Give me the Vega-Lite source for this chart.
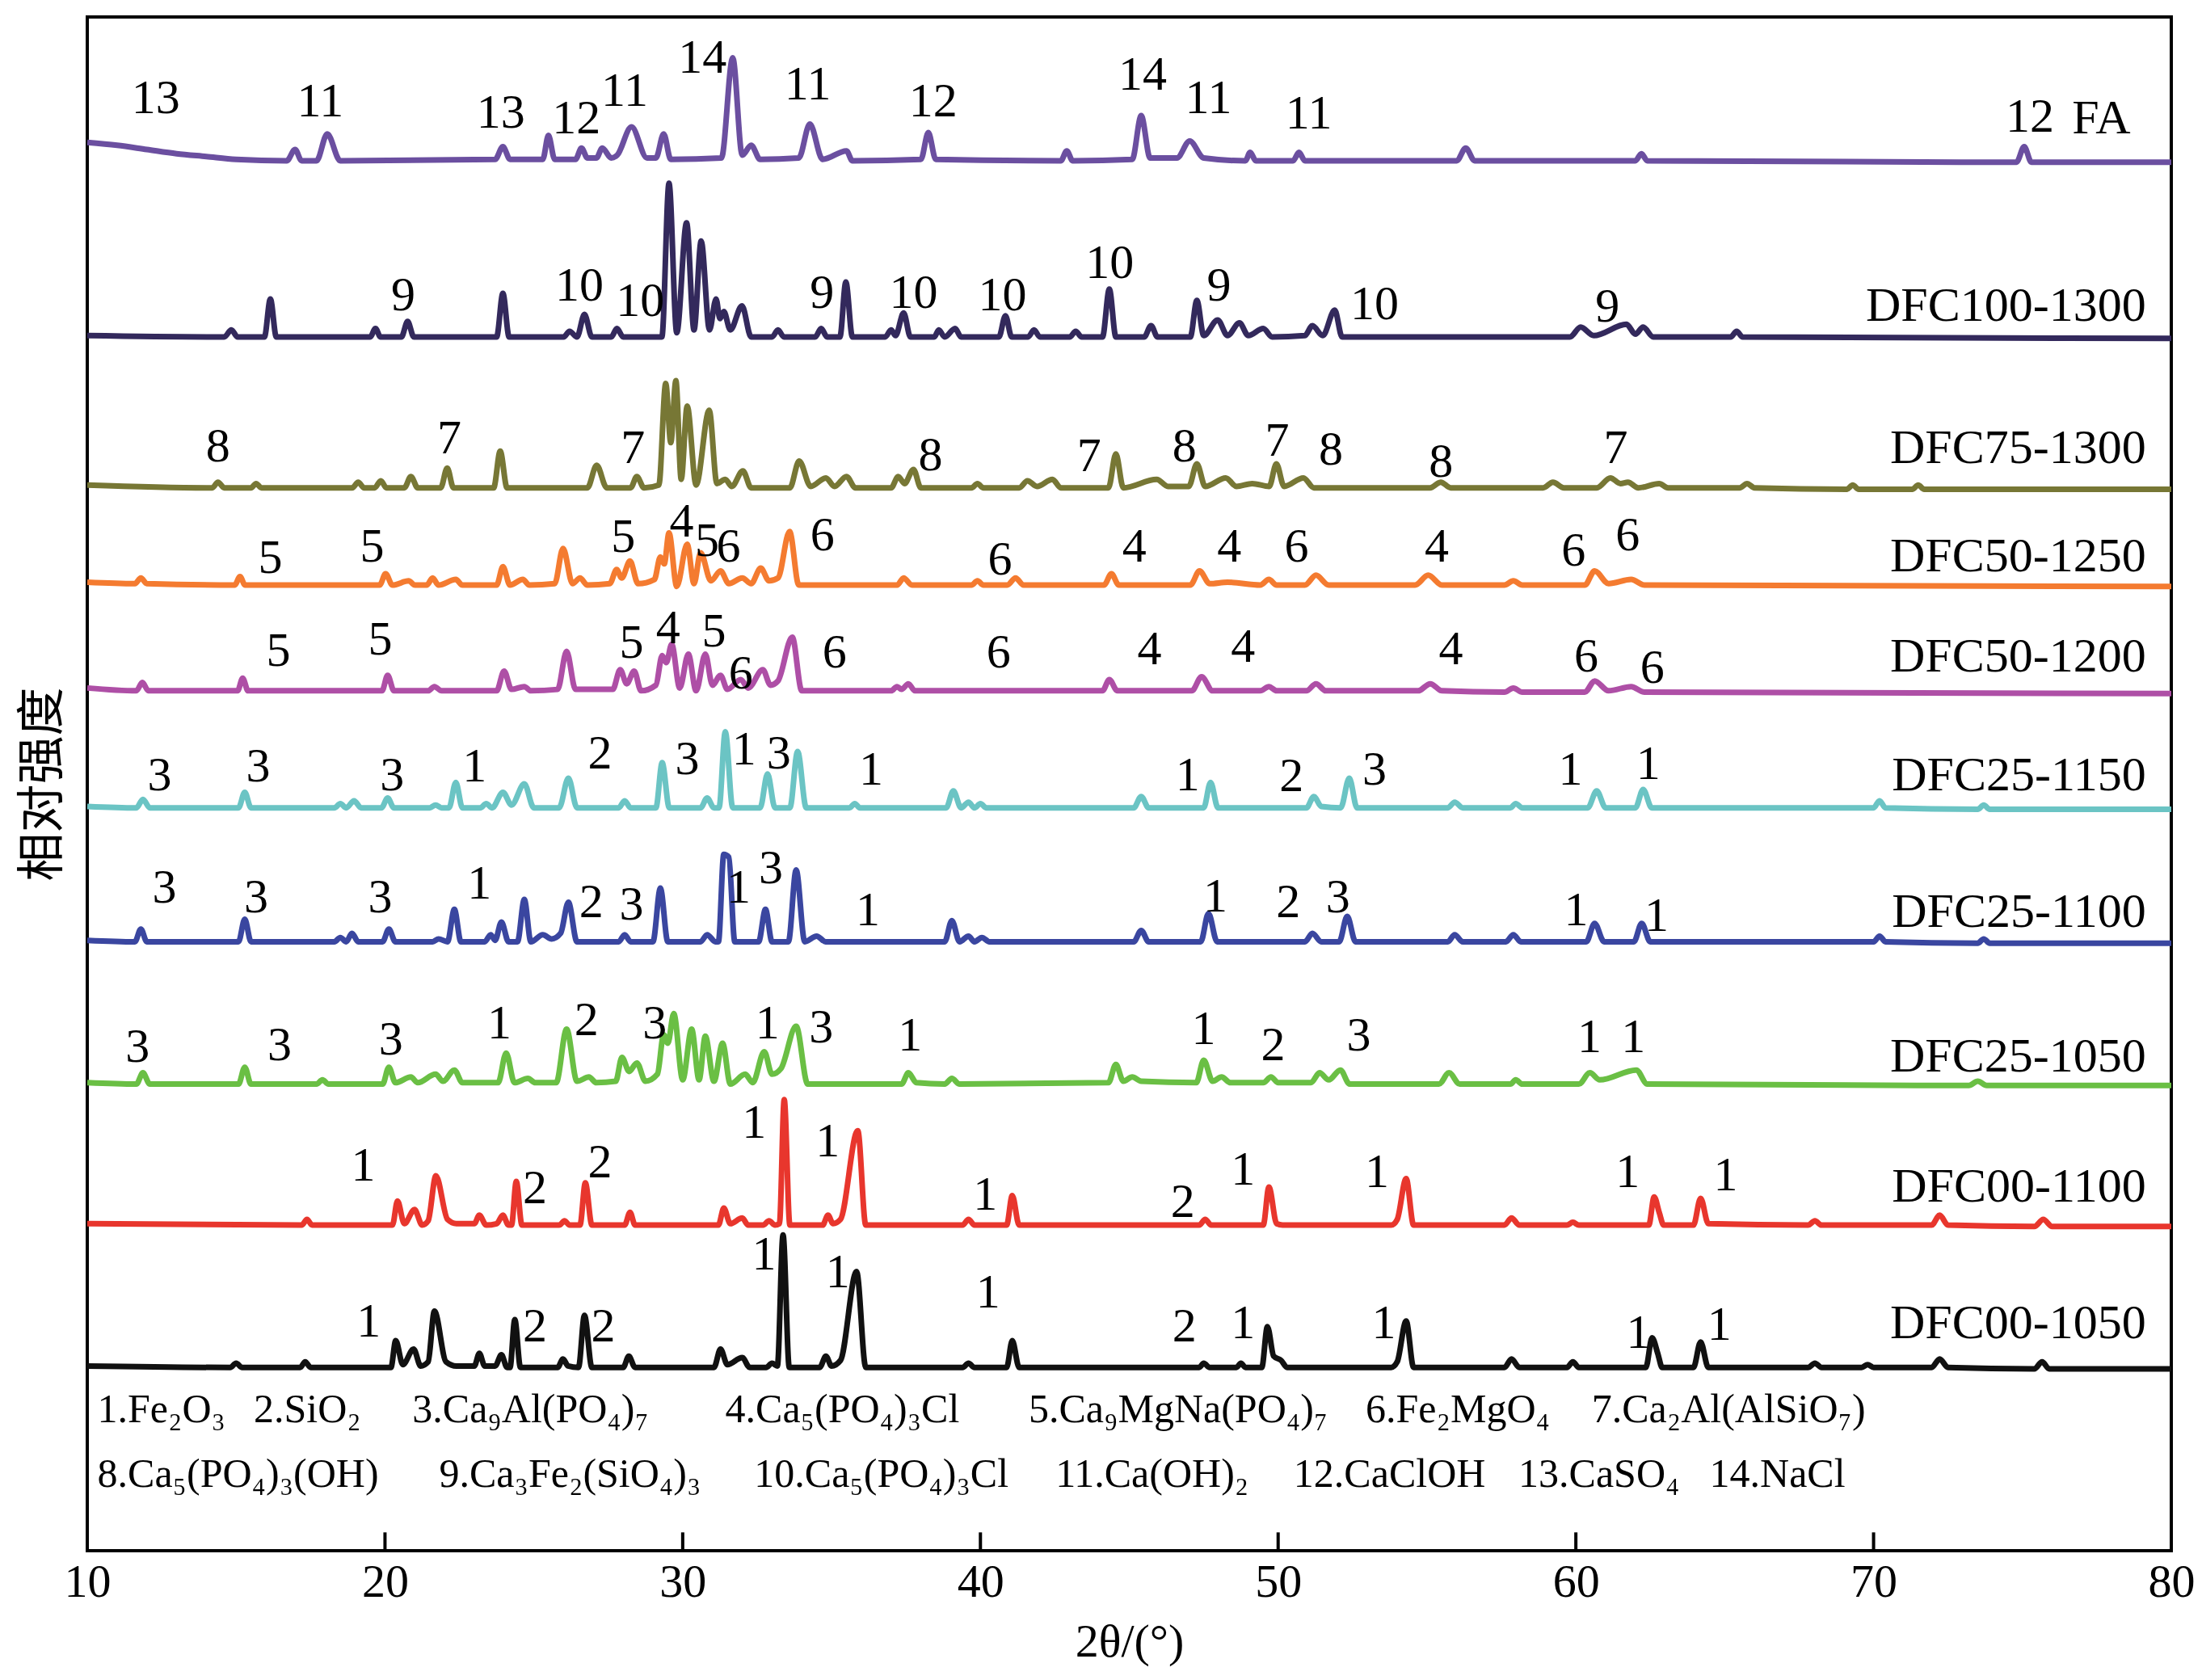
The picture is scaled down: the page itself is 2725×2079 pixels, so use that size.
{
  "$schema": "https://vega.github.io/schema/vega-lite/v6.json",
  "width": 2579,
  "height": 1898,
  "autosize": {"type": "none"},
  "padding": {"left": 108, "top": 21, "right": 38, "bottom": 160},
  "background": "white",
  "config": {
    "view": {"stroke": "black", "strokeWidth": 4},
    "font": "Liberation Serif"
  },
  "datasets": {
    "xrd": [
      {"s":"FA","t":10,"i":999},{"s":"FA","t":11,"i":997},{"s":"FA","t":12,"i":994},{"s":"FA","t":13,"i":991},{"s":"FA","t":14,"i":989},{"s":"FA","t":15,"i":987},{"s":"FA","t":16.7,"i":986},{"s":"FA","t":16.98,"i":994},{"s":"FA","t":17.2,"i":986},{"s":"FA","t":17.7,"i":986},{"s":"FA","t":18.06,"i":1005},{"s":"FA","t":18.5,"i":986},{"s":"FA","t":23.7,"i":987},{"s":"FA","t":23.96,"i":996},{"s":"FA","t":24.2,"i":987},{"s":"FA","t":25.3,"i":987},{"s":"FA","t":25.49,"i":1004},{"s":"FA","t":25.7,"i":987},{"s":"FA","t":26.4,"i":987},{"s":"FA","t":26.6,"i":995},{"s":"FA","t":26.8,"i":988},{"s":"FA","t":27.1,"i":988},{"s":"FA","t":27.3,"i":995},{"s":"FA","t":27.6,"i":988},{"s":"FA","t":27.8,"i":990},{"s":"FA","t":28.28,"i":1010},{"s":"FA","t":28.8,"i":988},{"s":"FA","t":29.1,"i":988},{"s":"FA","t":29.36,"i":1005},{"s":"FA","t":29.6,"i":987},{"s":"FA","t":31.3,"i":988},{"s":"FA","t":31.68,"i":1059},{"s":"FA","t":32.0,"i":990},{"s":"FA","t":32.3,"i":997},{"s":"FA","t":32.6,"i":987},{"s":"FA","t":33.9,"i":988},{"s":"FA","t":34.27,"i":1012},{"s":"FA","t":34.7,"i":987},{"s":"FA","t":35.5,"i":993},{"s":"FA","t":35.7,"i":986},{"s":"FA","t":38.0,"i":987},{"s":"FA","t":38.25,"i":1006},{"s":"FA","t":38.5,"i":987},{"s":"FA","t":42.7,"i":986},{"s":"FA","t":42.9,"i":993},{"s":"FA","t":43.1,"i":986},{"s":"FA","t":45.1,"i":987},{"s":"FA","t":45.4,"i":1018},{"s":"FA","t":45.7,"i":988},{"s":"FA","t":46.6,"i":988},{"s":"FA","t":47.03,"i":1000},{"s":"FA","t":47.5,"i":988},{"s":"FA","t":48.9,"i":986},{"s":"FA","t":49.06,"i":992},{"s":"FA","t":49.25,"i":986},{"s":"FA","t":50.5,"i":986},{"s":"FA","t":50.7,"i":992},{"s":"FA","t":50.9,"i":986},{"s":"FA","t":56.0,"i":986},{"s":"FA","t":56.3,"i":995},{"s":"FA","t":56.6,"i":986},{"s":"FA","t":62.0,"i":986},{"s":"FA","t":62.2,"i":991},{"s":"FA","t":62.4,"i":986},{"s":"FA","t":74.8,"i":985},{"s":"FA","t":75.06,"i":996},{"s":"FA","t":75.3,"i":985},{"s":"FA","t":80,"i":985},

      {"s":"DFC100-1300","t":10,"i":862},{"s":"DFC100-1300","t":14.6,"i":861},{"s":"DFC100-1300","t":14.84,"i":866},{"s":"DFC100-1300","t":15.05,"i":861},{"s":"DFC100-1300","t":15.95,"i":861},{"s":"DFC100-1300","t":16.15,"i":888},{"s":"DFC100-1300","t":16.35,"i":861},{"s":"DFC100-1300","t":19.5,"i":861},{"s":"DFC100-1300","t":19.68,"i":867},{"s":"DFC100-1300","t":19.85,"i":861},{"s":"DFC100-1300","t":20.55,"i":861},{"s":"DFC100-1300","t":20.76,"i":872},{"s":"DFC100-1300","t":20.97,"i":861},{"s":"DFC100-1300","t":23.75,"i":861},{"s":"DFC100-1300","t":23.96,"i":892},{"s":"DFC100-1300","t":24.17,"i":861},{"s":"DFC100-1300","t":26.0,"i":861},{"s":"DFC100-1300","t":26.2,"i":865},{"s":"DFC100-1300","t":26.45,"i":861},{"s":"DFC100-1300","t":26.7,"i":877},{"s":"DFC100-1300","t":26.95,"i":861},{"s":"DFC100-1300","t":27.6,"i":861},{"s":"DFC100-1300","t":27.79,"i":867},{"s":"DFC100-1300","t":28.0,"i":861},{"s":"DFC100-1300","t":29.3,"i":861},{"s":"DFC100-1300","t":29.54,"i":970},{"s":"DFC100-1300","t":29.8,"i":864},{"s":"DFC100-1300","t":30.13,"i":942},{"s":"DFC100-1300","t":30.38,"i":866},{"s":"DFC100-1300","t":30.62,"i":929},{"s":"DFC100-1300","t":30.9,"i":866},{"s":"DFC100-1300","t":31.12,"i":888},{"s":"DFC100-1300","t":31.25,"i":874},{"s":"DFC100-1300","t":31.38,"i":879},{"s":"DFC100-1300","t":31.6,"i":866},{"s":"DFC100-1300","t":31.99,"i":883},{"s":"DFC100-1300","t":32.3,"i":861},{"s":"DFC100-1300","t":33.0,"i":861},{"s":"DFC100-1300","t":33.2,"i":866},{"s":"DFC100-1300","t":33.4,"i":861},{"s":"DFC100-1300","t":34.45,"i":861},{"s":"DFC100-1300","t":34.65,"i":867},{"s":"DFC100-1300","t":34.85,"i":861},{"s":"DFC100-1300","t":35.28,"i":861},{"s":"DFC100-1300","t":35.48,"i":900},{"s":"DFC100-1300","t":35.7,"i":861},{"s":"DFC100-1300","t":36.8,"i":861},{"s":"DFC100-1300","t":37.0,"i":866},{"s":"DFC100-1300","t":37.15,"i":862},{"s":"DFC100-1300","t":37.42,"i":878},{"s":"DFC100-1300","t":37.65,"i":861},{"s":"DFC100-1300","t":38.45,"i":861},{"s":"DFC100-1300","t":38.6,"i":866},{"s":"DFC100-1300","t":38.8,"i":861},{"s":"DFC100-1300","t":39.15,"i":867},{"s":"DFC100-1300","t":39.35,"i":861},{"s":"DFC100-1300","t":40.62,"i":861},{"s":"DFC100-1300","t":40.84,"i":876},{"s":"DFC100-1300","t":41.05,"i":861},{"s":"DFC100-1300","t":41.6,"i":861},{"s":"DFC100-1300","t":41.8,"i":866},{"s":"DFC100-1300","t":42.0,"i":861},{"s":"DFC100-1300","t":43.0,"i":861},{"s":"DFC100-1300","t":43.2,"i":865},{"s":"DFC100-1300","t":43.4,"i":861},{"s":"DFC100-1300","t":44.1,"i":861},{"s":"DFC100-1300","t":44.33,"i":895},{"s":"DFC100-1300","t":44.55,"i":861},{"s":"DFC100-1300","t":45.5,"i":861},{"s":"DFC100-1300","t":45.73,"i":869},{"s":"DFC100-1300","t":45.95,"i":861},{"s":"DFC100-1300","t":47.05,"i":861},{"s":"DFC100-1300","t":47.27,"i":887},{"s":"DFC100-1300","t":47.5,"i":862},{"s":"DFC100-1300","t":47.97,"i":873},{"s":"DFC100-1300","t":48.3,"i":862},{"s":"DFC100-1300","t":48.7,"i":871},{"s":"DFC100-1300","t":49.0,"i":862},{"s":"DFC100-1300","t":49.5,"i":867},{"s":"DFC100-1300","t":49.8,"i":861},{"s":"DFC100-1300","t":50.9,"i":862},{"s":"DFC100-1300","t":51.15,"i":869},{"s":"DFC100-1300","t":51.5,"i":862},{"s":"DFC100-1300","t":51.9,"i":880},{"s":"DFC100-1300","t":52.15,"i":861},{"s":"DFC100-1300","t":59.8,"i":861},{"s":"DFC100-1300","t":60.16,"i":868},{"s":"DFC100-1300","t":60.6,"i":862},{"s":"DFC100-1300","t":61.7,"i":870},{"s":"DFC100-1300","t":62.0,"i":863},{"s":"DFC100-1300","t":62.26,"i":868},{"s":"DFC100-1300","t":62.6,"i":861},{"s":"DFC100-1300","t":65.2,"i":861},{"s":"DFC100-1300","t":65.4,"i":865},{"s":"DFC100-1300","t":65.6,"i":861},{"s":"DFC100-1300","t":80,"i":860},

      {"s":"DFC75-1300","t":10,"i":756},{"s":"DFC75-1300","t":14.2,"i":754},{"s":"DFC75-1300","t":14.39,"i":758},{"s":"DFC75-1300","t":14.6,"i":754},{"s":"DFC75-1300","t":15.5,"i":754},{"s":"DFC75-1300","t":15.67,"i":757},{"s":"DFC75-1300","t":15.85,"i":754},{"s":"DFC75-1300","t":18.9,"i":754},{"s":"DFC75-1300","t":19.1,"i":758},{"s":"DFC75-1300","t":19.3,"i":754},{"s":"DFC75-1300","t":19.65,"i":754},{"s":"DFC75-1300","t":19.86,"i":759},{"s":"DFC75-1300","t":20.05,"i":754},{"s":"DFC75-1300","t":20.65,"i":754},{"s":"DFC75-1300","t":20.87,"i":762},{"s":"DFC75-1300","t":21.1,"i":754},{"s":"DFC75-1300","t":21.87,"i":754},{"s":"DFC75-1300","t":22.09,"i":768},{"s":"DFC75-1300","t":22.3,"i":754},{"s":"DFC75-1300","t":23.65,"i":754},{"s":"DFC75-1300","t":23.87,"i":780},{"s":"DFC75-1300","t":24.1,"i":754},{"s":"DFC75-1300","t":26.8,"i":754},{"s":"DFC75-1300","t":27.11,"i":770},{"s":"DFC75-1300","t":27.45,"i":754},{"s":"DFC75-1300","t":28.25,"i":754},{"s":"DFC75-1300","t":28.46,"i":762},{"s":"DFC75-1300","t":28.7,"i":754},{"s":"DFC75-1300","t":29.2,"i":756},{"s":"DFC75-1300","t":29.43,"i":828},{"s":"DFC75-1300","t":29.6,"i":786},{"s":"DFC75-1300","t":29.77,"i":830},{"s":"DFC75-1300","t":29.95,"i":760},{"s":"DFC75-1300","t":30.15,"i":812},{"s":"DFC75-1300","t":30.45,"i":756},{"s":"DFC75-1300","t":30.89,"i":809},{"s":"DFC75-1300","t":31.15,"i":757},{"s":"DFC75-1300","t":31.43,"i":760},{"s":"DFC75-1300","t":31.65,"i":755},{"s":"DFC75-1300","t":32.02,"i":766},{"s":"DFC75-1300","t":32.3,"i":754},{"s":"DFC75-1300","t":33.6,"i":754},{"s":"DFC75-1300","t":33.91,"i":773},{"s":"DFC75-1300","t":34.3,"i":755},{"s":"DFC75-1300","t":34.81,"i":761},{"s":"DFC75-1300","t":35.1,"i":755},{"s":"DFC75-1300","t":35.5,"i":762},{"s":"DFC75-1300","t":35.8,"i":754},{"s":"DFC75-1300","t":37.0,"i":754},{"s":"DFC75-1300","t":37.24,"i":762},{"s":"DFC75-1300","t":37.45,"i":757},{"s":"DFC75-1300","t":37.75,"i":767},{"s":"DFC75-1300","t":38.0,"i":754},{"s":"DFC75-1300","t":39.7,"i":754},{"s":"DFC75-1300","t":39.9,"i":757},{"s":"DFC75-1300","t":40.1,"i":754},{"s":"DFC75-1300","t":41.3,"i":754},{"s":"DFC75-1300","t":41.58,"i":759},{"s":"DFC75-1300","t":41.9,"i":755},{"s":"DFC75-1300","t":42.42,"i":760},{"s":"DFC75-1300","t":42.7,"i":754},{"s":"DFC75-1300","t":44.3,"i":754},{"s":"DFC75-1300","t":44.55,"i":778},{"s":"DFC75-1300","t":44.8,"i":754},{"s":"DFC75-1300","t":45.92,"i":760},{"s":"DFC75-1300","t":46.3,"i":755},{"s":"DFC75-1300","t":47.0,"i":755},{"s":"DFC75-1300","t":47.27,"i":771},{"s":"DFC75-1300","t":47.55,"i":755},{"s":"DFC75-1300","t":48.24,"i":761},{"s":"DFC75-1300","t":48.6,"i":755},{"s":"DFC75-1300","t":49.13,"i":757},{"s":"DFC75-1300","t":49.7,"i":755},{"s":"DFC75-1300","t":49.94,"i":771},{"s":"DFC75-1300","t":50.2,"i":755},{"s":"DFC75-1300","t":50.85,"i":761},{"s":"DFC75-1300","t":51.2,"i":754},{"s":"DFC75-1300","t":55.1,"i":754},{"s":"DFC75-1300","t":55.46,"i":758},{"s":"DFC75-1300","t":55.8,"i":754},{"s":"DFC75-1300","t":58.9,"i":754},{"s":"DFC75-1300","t":59.23,"i":758},{"s":"DFC75-1300","t":59.6,"i":754},{"s":"DFC75-1300","t":60.7,"i":754},{"s":"DFC75-1300","t":61.16,"i":761},{"s":"DFC75-1300","t":61.5,"i":757},{"s":"DFC75-1300","t":61.75,"i":758},{"s":"DFC75-1300","t":62.1,"i":754},{"s":"DFC75-1300","t":62.8,"i":757},{"s":"DFC75-1300","t":63.1,"i":754},{"s":"DFC75-1300","t":65.5,"i":754},{"s":"DFC75-1300","t":65.75,"i":757},{"s":"DFC75-1300","t":66.0,"i":754},{"s":"DFC75-1300","t":69.1,"i":753},{"s":"DFC75-1300","t":69.3,"i":756},{"s":"DFC75-1300","t":69.5,"i":753},{"s":"DFC75-1300","t":71.3,"i":753},{"s":"DFC75-1300","t":71.5,"i":756},{"s":"DFC75-1300","t":71.7,"i":753},{"s":"DFC75-1300","t":80,"i":753},

      {"s":"DFC50-1250","t":10,"i":687},{"s":"DFC50-1250","t":11.6,"i":686},{"s":"DFC50-1250","t":11.8,"i":690},{"s":"DFC50-1250","t":12.0,"i":686},{"s":"DFC50-1250","t":14.95,"i":685},{"s":"DFC50-1250","t":15.13,"i":691},{"s":"DFC50-1250","t":15.3,"i":685},{"s":"DFC50-1250","t":19.82,"i":685},{"s":"DFC50-1250","t":20.02,"i":693},{"s":"DFC50-1250","t":20.25,"i":685},{"s":"DFC50-1250","t":20.8,"i":688},{"s":"DFC50-1250","t":21.0,"i":685},{"s":"DFC50-1250","t":21.4,"i":685},{"s":"DFC50-1250","t":21.6,"i":690},{"s":"DFC50-1250","t":21.8,"i":685},{"s":"DFC50-1250","t":22.38,"i":689},{"s":"DFC50-1250","t":22.6,"i":685},{"s":"DFC50-1250","t":23.75,"i":685},{"s":"DFC50-1250","t":23.96,"i":698},{"s":"DFC50-1250","t":24.2,"i":685},{"s":"DFC50-1250","t":24.63,"i":689},{"s":"DFC50-1250","t":24.85,"i":685},{"s":"DFC50-1250","t":25.7,"i":686},{"s":"DFC50-1250","t":25.98,"i":711},{"s":"DFC50-1250","t":26.3,"i":686},{"s":"DFC50-1250","t":26.55,"i":690},{"s":"DFC50-1250","t":26.8,"i":685},{"s":"DFC50-1250","t":27.55,"i":686},{"s":"DFC50-1250","t":27.78,"i":696},{"s":"DFC50-1250","t":27.95,"i":690},{"s":"DFC50-1250","t":28.23,"i":702},{"s":"DFC50-1250","t":28.5,"i":686},{"s":"DFC50-1250","t":29.05,"i":689},{"s":"DFC50-1250","t":29.25,"i":705},{"s":"DFC50-1250","t":29.38,"i":700},{"s":"DFC50-1250","t":29.54,"i":722},{"s":"DFC50-1250","t":29.8,"i":684},{"s":"DFC50-1250","t":30.15,"i":714},{"s":"DFC50-1250","t":30.38,"i":686},{"s":"DFC50-1250","t":30.6,"i":708},{"s":"DFC50-1250","t":30.95,"i":688},{"s":"DFC50-1250","t":31.27,"i":695},{"s":"DFC50-1250","t":31.55,"i":686},{"s":"DFC50-1250","t":32.0,"i":690},{"s":"DFC50-1250","t":32.3,"i":686},{"s":"DFC50-1250","t":32.62,"i":697},{"s":"DFC50-1250","t":32.9,"i":688},{"s":"DFC50-1250","t":33.2,"i":690},{"s":"DFC50-1250","t":33.59,"i":723},{"s":"DFC50-1250","t":33.9,"i":685},{"s":"DFC50-1250","t":37.2,"i":685},{"s":"DFC50-1250","t":37.42,"i":690},{"s":"DFC50-1250","t":37.7,"i":685},{"s":"DFC50-1250","t":39.7,"i":685},{"s":"DFC50-1250","t":39.9,"i":688},{"s":"DFC50-1250","t":40.1,"i":685},{"s":"DFC50-1250","t":40.9,"i":685},{"s":"DFC50-1250","t":41.18,"i":690},{"s":"DFC50-1250","t":41.45,"i":685},{"s":"DFC50-1250","t":44.15,"i":685},{"s":"DFC50-1250","t":44.4,"i":693},{"s":"DFC50-1250","t":44.65,"i":685},{"s":"DFC50-1250","t":47.05,"i":685},{"s":"DFC50-1250","t":47.36,"i":695},{"s":"DFC50-1250","t":47.7,"i":686},{"s":"DFC50-1250","t":48.3,"i":687},{"s":"DFC50-1250","t":49.4,"i":685},{"s":"DFC50-1250","t":49.69,"i":689},{"s":"DFC50-1250","t":49.95,"i":685},{"s":"DFC50-1250","t":50.9,"i":685},{"s":"DFC50-1250","t":51.27,"i":692},{"s":"DFC50-1250","t":51.7,"i":685},{"s":"DFC50-1250","t":54.6,"i":685},{"s":"DFC50-1250","t":55.04,"i":692},{"s":"DFC50-1250","t":55.5,"i":685},{"s":"DFC50-1250","t":57.6,"i":685},{"s":"DFC50-1250","t":57.9,"i":688},{"s":"DFC50-1250","t":58.2,"i":685},{"s":"DFC50-1250","t":60.3,"i":685},{"s":"DFC50-1250","t":60.63,"i":695},{"s":"DFC50-1250","t":61.1,"i":686},{"s":"DFC50-1250","t":61.86,"i":689},{"s":"DFC50-1250","t":62.3,"i":685},{"s":"DFC50-1250","t":80,"i":684},

      {"s":"DFC50-1200","t":10,"i":612},{"s":"DFC50-1200","t":11.65,"i":610},{"s":"DFC50-1200","t":11.85,"i":616},{"s":"DFC50-1200","t":12.05,"i":610},{"s":"DFC50-1200","t":15.05,"i":610},{"s":"DFC50-1200","t":15.22,"i":619},{"s":"DFC50-1200","t":15.4,"i":610},{"s":"DFC50-1200","t":19.9,"i":610},{"s":"DFC50-1200","t":20.09,"i":621},{"s":"DFC50-1200","t":20.3,"i":610},{"s":"DFC50-1200","t":21.45,"i":610},{"s":"DFC50-1200","t":21.66,"i":613},{"s":"DFC50-1200","t":21.9,"i":610},{"s":"DFC50-1200","t":23.75,"i":610},{"s":"DFC50-1200","t":24.0,"i":624},{"s":"DFC50-1200","t":24.25,"i":611},{"s":"DFC50-1200","t":24.68,"i":613},{"s":"DFC50-1200","t":24.9,"i":610},{"s":"DFC50-1200","t":25.8,"i":611},{"s":"DFC50-1200","t":26.1,"i":638},{"s":"DFC50-1200","t":26.4,"i":611},{"s":"DFC50-1200","t":27.65,"i":611},{"s":"DFC50-1200","t":27.9,"i":625},{"s":"DFC50-1200","t":28.12,"i":615},{"s":"DFC50-1200","t":28.37,"i":624},{"s":"DFC50-1200","t":28.6,"i":610},{"s":"DFC50-1200","t":29.1,"i":614},{"s":"DFC50-1200","t":29.31,"i":635},{"s":"DFC50-1200","t":29.45,"i":630},{"s":"DFC50-1200","t":29.63,"i":643},{"s":"DFC50-1200","t":29.9,"i":612},{"s":"DFC50-1200","t":30.19,"i":636},{"s":"DFC50-1200","t":30.45,"i":610},{"s":"DFC50-1200","t":30.76,"i":636},{"s":"DFC50-1200","t":31.0,"i":614},{"s":"DFC50-1200","t":31.27,"i":621},{"s":"DFC50-1200","t":31.5,"i":611},{"s":"DFC50-1200","t":31.95,"i":618},{"s":"DFC50-1200","t":32.2,"i":612},{"s":"DFC50-1200","t":32.69,"i":625},{"s":"DFC50-1200","t":32.95,"i":614},{"s":"DFC50-1200","t":33.2,"i":617},{"s":"DFC50-1200","t":33.68,"i":648},{"s":"DFC50-1200","t":34.0,"i":610},{"s":"DFC50-1200","t":37.0,"i":610},{"s":"DFC50-1200","t":37.2,"i":613},{"s":"DFC50-1200","t":37.35,"i":611},{"s":"DFC50-1200","t":37.58,"i":615},{"s":"DFC50-1200","t":37.8,"i":610},{"s":"DFC50-1200","t":44.1,"i":610},{"s":"DFC50-1200","t":44.33,"i":618},{"s":"DFC50-1200","t":44.6,"i":610},{"s":"DFC50-1200","t":47.1,"i":610},{"s":"DFC50-1200","t":47.43,"i":620},{"s":"DFC50-1200","t":47.8,"i":610},{"s":"DFC50-1200","t":49.4,"i":610},{"s":"DFC50-1200","t":49.69,"i":613},{"s":"DFC50-1200","t":49.95,"i":610},{"s":"DFC50-1200","t":50.95,"i":610},{"s":"DFC50-1200","t":51.27,"i":615},{"s":"DFC50-1200","t":51.6,"i":610},{"s":"DFC50-1200","t":54.7,"i":610},{"s":"DFC50-1200","t":55.11,"i":615},{"s":"DFC50-1200","t":55.5,"i":610},{"s":"DFC50-1200","t":57.6,"i":609},{"s":"DFC50-1200","t":57.9,"i":612},{"s":"DFC50-1200","t":58.2,"i":609},{"s":"DFC50-1200","t":60.3,"i":609},{"s":"DFC50-1200","t":60.63,"i":617},{"s":"DFC50-1200","t":61.1,"i":610},{"s":"DFC50-1200","t":61.86,"i":613},{"s":"DFC50-1200","t":62.3,"i":609},{"s":"DFC50-1200","t":80,"i":608},

      {"s":"DFC25-1150","t":10,"i":528},{"s":"DFC25-1150","t":11.65,"i":527},{"s":"DFC25-1150","t":11.87,"i":533},{"s":"DFC25-1150","t":12.1,"i":527},{"s":"DFC25-1150","t":15.08,"i":527},{"s":"DFC25-1150","t":15.29,"i":538},{"s":"DFC25-1150","t":15.5,"i":527},{"s":"DFC25-1150","t":18.3,"i":527},{"s":"DFC25-1150","t":18.5,"i":530},{"s":"DFC25-1150","t":18.7,"i":527},{"s":"DFC25-1150","t":18.96,"i":532},{"s":"DFC25-1150","t":19.2,"i":527},{"s":"DFC25-1150","t":19.88,"i":527},{"s":"DFC25-1150","t":20.09,"i":534},{"s":"DFC25-1150","t":20.3,"i":527},{"s":"DFC25-1150","t":21.5,"i":527},{"s":"DFC25-1150","t":21.7,"i":529},{"s":"DFC25-1150","t":21.9,"i":527},{"s":"DFC25-1150","t":22.15,"i":527},{"s":"DFC25-1150","t":22.38,"i":545},{"s":"DFC25-1150","t":22.6,"i":527},{"s":"DFC25-1150","t":23.2,"i":527},{"s":"DFC25-1150","t":23.4,"i":530},{"s":"DFC25-1150","t":23.6,"i":527},{"s":"DFC25-1150","t":23.96,"i":538},{"s":"DFC25-1150","t":24.25,"i":529},{"s":"DFC25-1150","t":24.68,"i":544},{"s":"DFC25-1150","t":25.0,"i":527},{"s":"DFC25-1150","t":25.85,"i":527},{"s":"DFC25-1150","t":26.16,"i":548},{"s":"DFC25-1150","t":26.45,"i":527},{"s":"DFC25-1150","t":27.85,"i":527},{"s":"DFC25-1150","t":28.05,"i":532},{"s":"DFC25-1150","t":28.25,"i":527},{"s":"DFC25-1150","t":29.1,"i":527},{"s":"DFC25-1150","t":29.31,"i":559},{"s":"DFC25-1150","t":29.55,"i":527},{"s":"DFC25-1150","t":30.6,"i":527},{"s":"DFC25-1150","t":30.82,"i":534},{"s":"DFC25-1150","t":31.05,"i":527},{"s":"DFC25-1150","t":31.22,"i":527},{"s":"DFC25-1150","t":31.43,"i":581},{"s":"DFC25-1150","t":31.68,"i":527},{"s":"DFC25-1150","t":32.6,"i":527},{"s":"DFC25-1150","t":32.85,"i":551},{"s":"DFC25-1150","t":33.1,"i":527},{"s":"DFC25-1150","t":33.6,"i":527},{"s":"DFC25-1150","t":33.86,"i":567},{"s":"DFC25-1150","t":34.15,"i":527},{"s":"DFC25-1150","t":35.6,"i":527},{"s":"DFC25-1150","t":35.78,"i":530},{"s":"DFC25-1150","t":35.95,"i":527},{"s":"DFC25-1150","t":38.85,"i":527},{"s":"DFC25-1150","t":39.09,"i":539},{"s":"DFC25-1150","t":39.35,"i":527},{"s":"DFC25-1150","t":39.6,"i":531},{"s":"DFC25-1150","t":39.8,"i":527},{"s":"DFC25-1150","t":40.0,"i":530},{"s":"DFC25-1150","t":40.2,"i":527},{"s":"DFC25-1150","t":45.15,"i":527},{"s":"DFC25-1150","t":45.4,"i":535},{"s":"DFC25-1150","t":45.65,"i":527},{"s":"DFC25-1150","t":47.5,"i":527},{"s":"DFC25-1150","t":47.73,"i":545},{"s":"DFC25-1150","t":47.98,"i":527},{"s":"DFC25-1150","t":50.95,"i":527},{"s":"DFC25-1150","t":51.2,"i":535},{"s":"DFC25-1150","t":51.45,"i":528},{"s":"DFC25-1150","t":52.1,"i":527},{"s":"DFC25-1150","t":52.39,"i":548},{"s":"DFC25-1150","t":52.65,"i":527},{"s":"DFC25-1150","t":55.7,"i":527},{"s":"DFC25-1150","t":55.93,"i":531},{"s":"DFC25-1150","t":56.2,"i":527},{"s":"DFC25-1150","t":57.8,"i":527},{"s":"DFC25-1150","t":57.98,"i":530},{"s":"DFC25-1150","t":58.2,"i":527},{"s":"DFC25-1150","t":60.4,"i":527},{"s":"DFC25-1150","t":60.7,"i":539},{"s":"DFC25-1150","t":61.0,"i":527},{"s":"DFC25-1150","t":62.0,"i":527},{"s":"DFC25-1150","t":62.26,"i":540},{"s":"DFC25-1150","t":62.55,"i":527},{"s":"DFC25-1150","t":70.0,"i":527},{"s":"DFC25-1150","t":70.2,"i":532},{"s":"DFC25-1150","t":70.4,"i":527},{"s":"DFC25-1150","t":73.5,"i":526},{"s":"DFC25-1150","t":73.7,"i":529},{"s":"DFC25-1150","t":73.9,"i":526},{"s":"DFC25-1150","t":80,"i":526},

      {"s":"DFC25-1100","t":10,"i":433},{"s":"DFC25-1100","t":11.6,"i":432},{"s":"DFC25-1100","t":11.8,"i":441},{"s":"DFC25-1100","t":12.0,"i":432},{"s":"DFC25-1100","t":15.08,"i":432},{"s":"DFC25-1100","t":15.29,"i":448},{"s":"DFC25-1100","t":15.5,"i":432},{"s":"DFC25-1100","t":18.3,"i":432},{"s":"DFC25-1100","t":18.5,"i":435},{"s":"DFC25-1100","t":18.7,"i":432},{"s":"DFC25-1100","t":18.89,"i":438},{"s":"DFC25-1100","t":19.1,"i":432},{"s":"DFC25-1100","t":19.92,"i":432},{"s":"DFC25-1100","t":20.13,"i":441},{"s":"DFC25-1100","t":20.35,"i":432},{"s":"DFC25-1100","t":21.6,"i":432},{"s":"DFC25-1100","t":21.8,"i":434},{"s":"DFC25-1100","t":22.1,"i":432},{"s":"DFC25-1100","t":22.33,"i":455},{"s":"DFC25-1100","t":22.55,"i":432},{"s":"DFC25-1100","t":23.35,"i":432},{"s":"DFC25-1100","t":23.55,"i":437},{"s":"DFC25-1100","t":23.7,"i":433},{"s":"DFC25-1100","t":23.91,"i":446},{"s":"DFC25-1100","t":24.15,"i":432},{"s":"DFC25-1100","t":24.45,"i":432},{"s":"DFC25-1100","t":24.68,"i":462},{"s":"DFC25-1100","t":24.9,"i":432},{"s":"DFC25-1100","t":25.3,"i":437},{"s":"DFC25-1100","t":25.6,"i":434},{"s":"DFC25-1100","t":25.9,"i":438},{"s":"DFC25-1100","t":26.16,"i":460},{"s":"DFC25-1100","t":26.45,"i":432},{"s":"DFC25-1100","t":27.85,"i":432},{"s":"DFC25-1100","t":28.05,"i":437},{"s":"DFC25-1100","t":28.25,"i":432},{"s":"DFC25-1100","t":29.0,"i":432},{"s":"DFC25-1100","t":29.25,"i":470},{"s":"DFC25-1100","t":29.5,"i":432},{"s":"DFC25-1100","t":30.6,"i":432},{"s":"DFC25-1100","t":30.82,"i":437},{"s":"DFC25-1100","t":31.1,"i":432},{"s":"DFC25-1100","t":31.2,"i":432},{"s":"DFC25-1100","t":31.38,"i":494},{"s":"DFC25-1100","t":31.55,"i":492},{"s":"DFC25-1100","t":31.75,"i":432},{"s":"DFC25-1100","t":32.55,"i":432},{"s":"DFC25-1100","t":32.78,"i":455},{"s":"DFC25-1100","t":33.0,"i":432},{"s":"DFC25-1100","t":33.55,"i":432},{"s":"DFC25-1100","t":33.81,"i":483},{"s":"DFC25-1100","t":34.1,"i":432},{"s":"DFC25-1100","t":34.5,"i":436},{"s":"DFC25-1100","t":34.8,"i":432},{"s":"DFC25-1100","t":38.8,"i":432},{"s":"DFC25-1100","t":39.04,"i":447},{"s":"DFC25-1100","t":39.3,"i":432},{"s":"DFC25-1100","t":39.6,"i":436},{"s":"DFC25-1100","t":39.8,"i":432},{"s":"DFC25-1100","t":40.05,"i":435},{"s":"DFC25-1100","t":40.3,"i":432},{"s":"DFC25-1100","t":45.15,"i":432},{"s":"DFC25-1100","t":45.4,"i":440},{"s":"DFC25-1100","t":45.65,"i":432},{"s":"DFC25-1100","t":47.4,"i":432},{"s":"DFC25-1100","t":47.66,"i":452},{"s":"DFC25-1100","t":47.95,"i":432},{"s":"DFC25-1100","t":50.9,"i":432},{"s":"DFC25-1100","t":51.15,"i":438},{"s":"DFC25-1100","t":51.45,"i":432},{"s":"DFC25-1100","t":52.05,"i":432},{"s":"DFC25-1100","t":52.32,"i":450},{"s":"DFC25-1100","t":52.6,"i":432},{"s":"DFC25-1100","t":55.7,"i":432},{"s":"DFC25-1100","t":55.93,"i":437},{"s":"DFC25-1100","t":56.2,"i":432},{"s":"DFC25-1100","t":57.65,"i":432},{"s":"DFC25-1100","t":57.9,"i":437},{"s":"DFC25-1100","t":58.15,"i":432},{"s":"DFC25-1100","t":60.35,"i":432},{"s":"DFC25-1100","t":60.63,"i":445},{"s":"DFC25-1100","t":60.95,"i":432},{"s":"DFC25-1100","t":61.95,"i":432},{"s":"DFC25-1100","t":62.21,"i":445},{"s":"DFC25-1100","t":62.5,"i":432},{"s":"DFC25-1100","t":70.0,"i":432},{"s":"DFC25-1100","t":70.2,"i":436},{"s":"DFC25-1100","t":70.4,"i":432},{"s":"DFC25-1100","t":73.5,"i":431},{"s":"DFC25-1100","t":73.7,"i":434},{"s":"DFC25-1100","t":73.9,"i":431},{"s":"DFC25-1100","t":80,"i":431},

      {"s":"DFC25-1050","t":10,"i":332},{"s":"DFC25-1050","t":11.65,"i":331},{"s":"DFC25-1050","t":11.87,"i":339},{"s":"DFC25-1050","t":12.1,"i":331},{"s":"DFC25-1050","t":15.08,"i":331},{"s":"DFC25-1050","t":15.29,"i":343},{"s":"DFC25-1050","t":15.5,"i":331},{"s":"DFC25-1050","t":17.7,"i":331},{"s":"DFC25-1050","t":17.9,"i":334},{"s":"DFC25-1050","t":18.1,"i":331},{"s":"DFC25-1050","t":19.92,"i":331},{"s":"DFC25-1050","t":20.13,"i":343},{"s":"DFC25-1050","t":20.35,"i":332},{"s":"DFC25-1050","t":20.87,"i":336},{"s":"DFC25-1050","t":21.1,"i":332},{"s":"DFC25-1050","t":21.7,"i":338},{"s":"DFC25-1050","t":21.95,"i":333},{"s":"DFC25-1050","t":22.33,"i":341},{"s":"DFC25-1050","t":22.6,"i":332},{"s":"DFC25-1050","t":23.8,"i":332},{"s":"DFC25-1050","t":24.07,"i":353},{"s":"DFC25-1050","t":24.35,"i":332},{"s":"DFC25-1050","t":24.8,"i":335},{"s":"DFC25-1050","t":25.05,"i":332},{"s":"DFC25-1050","t":25.75,"i":332},{"s":"DFC25-1050","t":26.1,"i":370},{"s":"DFC25-1050","t":26.45,"i":333},{"s":"DFC25-1050","t":26.85,"i":336},{"s":"DFC25-1050","t":27.1,"i":332},{"s":"DFC25-1050","t":27.75,"i":333},{"s":"DFC25-1050","t":27.96,"i":350},{"s":"DFC25-1050","t":28.2,"i":340},{"s":"DFC25-1050","t":28.46,"i":346},{"s":"DFC25-1050","t":28.75,"i":333},{"s":"DFC25-1050","t":29.15,"i":338},{"s":"DFC25-1050","t":29.36,"i":366},{"s":"DFC25-1050","t":29.5,"i":360},{"s":"DFC25-1050","t":29.7,"i":381},{"s":"DFC25-1050","t":30.0,"i":334},{"s":"DFC25-1050","t":30.3,"i":370},{"s":"DFC25-1050","t":30.55,"i":334},{"s":"DFC25-1050","t":30.76,"i":365},{"s":"DFC25-1050","t":31.05,"i":333},{"s":"DFC25-1050","t":31.34,"i":360},{"s":"DFC25-1050","t":31.6,"i":331},{"s":"DFC25-1050","t":32.1,"i":338},{"s":"DFC25-1050","t":32.35,"i":332},{"s":"DFC25-1050","t":32.74,"i":354},{"s":"DFC25-1050","t":33.0,"i":338},{"s":"DFC25-1050","t":33.3,"i":342},{"s":"DFC25-1050","t":33.81,"i":372},{"s":"DFC25-1050","t":34.2,"i":331},{"s":"DFC25-1050","t":37.35,"i":331},{"s":"DFC25-1050","t":37.58,"i":339},{"s":"DFC25-1050","t":37.85,"i":332},{"s":"DFC25-1050","t":38.8,"i":331},{"s":"DFC25-1050","t":39.04,"i":335},{"s":"DFC25-1050","t":39.3,"i":331},{"s":"DFC25-1050","t":44.3,"i":332},{"s":"DFC25-1050","t":44.55,"i":345},{"s":"DFC25-1050","t":44.8,"i":333},{"s":"DFC25-1050","t":45.1,"i":336},{"s":"DFC25-1050","t":45.4,"i":333},{"s":"DFC25-1050","t":47.25,"i":332},{"s":"DFC25-1050","t":47.5,"i":348},{"s":"DFC25-1050","t":47.8,"i":333},{"s":"DFC25-1050","t":48.1,"i":336},{"s":"DFC25-1050","t":48.4,"i":332},{"s":"DFC25-1050","t":49.5,"i":332},{"s":"DFC25-1050","t":49.76,"i":336},{"s":"DFC25-1050","t":50.0,"i":332},{"s":"DFC25-1050","t":51.1,"i":332},{"s":"DFC25-1050","t":51.39,"i":339},{"s":"DFC25-1050","t":51.7,"i":334},{"s":"DFC25-1050","t":52.09,"i":341},{"s":"DFC25-1050","t":52.4,"i":331},{"s":"DFC25-1050","t":55.4,"i":331},{"s":"DFC25-1050","t":55.74,"i":339},{"s":"DFC25-1050","t":56.1,"i":331},{"s":"DFC25-1050","t":57.8,"i":331},{"s":"DFC25-1050","t":57.98,"i":334},{"s":"DFC25-1050","t":58.2,"i":331},{"s":"DFC25-1050","t":60.1,"i":331},{"s":"DFC25-1050","t":60.47,"i":339},{"s":"DFC25-1050","t":60.8,"i":334},{"s":"DFC25-1050","t":62.03,"i":341},{"s":"DFC25-1050","t":62.4,"i":331},{"s":"DFC25-1050","t":73.2,"i":330},{"s":"DFC25-1050","t":73.5,"i":333},{"s":"DFC25-1050","t":73.8,"i":330},{"s":"DFC25-1050","t":80,"i":330},

      {"s":"DFC00-1100","t":10,"i":232},{"s":"DFC00-1100","t":17.2,"i":231},{"s":"DFC00-1100","t":17.38,"i":235},{"s":"DFC00-1100","t":17.55,"i":231},{"s":"DFC00-1100","t":20.25,"i":231},{"s":"DFC00-1100","t":20.42,"i":248},{"s":"DFC00-1100","t":20.65,"i":232},{"s":"DFC00-1100","t":20.99,"i":242},{"s":"DFC00-1100","t":21.25,"i":231},{"s":"DFC00-1100","t":21.45,"i":234},{"s":"DFC00-1100","t":21.71,"i":266},{"s":"DFC00-1100","t":22.1,"i":235},{"s":"DFC00-1100","t":22.4,"i":232},{"s":"DFC00-1100","t":23.0,"i":232},{"s":"DFC00-1100","t":23.17,"i":238},{"s":"DFC00-1100","t":23.4,"i":231},{"s":"DFC00-1100","t":23.75,"i":232},{"s":"DFC00-1100","t":23.96,"i":238},{"s":"DFC00-1100","t":24.15,"i":231},{"s":"DFC00-1100","t":24.25,"i":231},{"s":"DFC00-1100","t":24.41,"i":262},{"s":"DFC00-1100","t":24.6,"i":231},{"s":"DFC00-1100","t":25.85,"i":231},{"s":"DFC00-1100","t":26.03,"i":234},{"s":"DFC00-1100","t":26.2,"i":231},{"s":"DFC00-1100","t":26.55,"i":231},{"s":"DFC00-1100","t":26.73,"i":261},{"s":"DFC00-1100","t":26.95,"i":231},{"s":"DFC00-1100","t":28.05,"i":231},{"s":"DFC00-1100","t":28.23,"i":240},{"s":"DFC00-1100","t":28.4,"i":231},{"s":"DFC00-1100","t":31.2,"i":231},{"s":"DFC00-1100","t":31.38,"i":243},{"s":"DFC00-1100","t":31.6,"i":232},{"s":"DFC00-1100","t":32.0,"i":236},{"s":"DFC00-1100","t":32.2,"i":231},{"s":"DFC00-1100","t":32.7,"i":231},{"s":"DFC00-1100","t":32.9,"i":234},{"s":"DFC00-1100","t":33.1,"i":231},{"s":"DFC00-1100","t":33.25,"i":232},{"s":"DFC00-1100","t":33.41,"i":320},{"s":"DFC00-1100","t":33.6,"i":231},{"s":"DFC00-1100","t":34.7,"i":231},{"s":"DFC00-1100","t":34.88,"i":238},{"s":"DFC00-1100","t":35.05,"i":232},{"s":"DFC00-1100","t":35.3,"i":235},{"s":"DFC00-1100","t":35.88,"i":298},{"s":"DFC00-1100","t":36.15,"i":231},{"s":"DFC00-1100","t":39.4,"i":231},{"s":"DFC00-1100","t":39.6,"i":235},{"s":"DFC00-1100","t":39.8,"i":231},{"s":"DFC00-1100","t":40.88,"i":231},{"s":"DFC00-1100","t":41.07,"i":252},{"s":"DFC00-1100","t":41.3,"i":231},{"s":"DFC00-1100","t":47.35,"i":231},{"s":"DFC00-1100","t":47.55,"i":235},{"s":"DFC00-1100","t":47.75,"i":231},{"s":"DFC00-1100","t":49.5,"i":231},{"s":"DFC00-1100","t":49.69,"i":258},{"s":"DFC00-1100","t":49.95,"i":232},{"s":"DFC00-1100","t":50.15,"i":231},{"s":"DFC00-1100","t":53.8,"i":231},{"s":"DFC00-1100","t":54.0,"i":235},{"s":"DFC00-1100","t":54.3,"i":264},{"s":"DFC00-1100","t":54.55,"i":231},{"s":"DFC00-1100","t":57.6,"i":231},{"s":"DFC00-1100","t":57.84,"i":236},{"s":"DFC00-1100","t":58.1,"i":231},{"s":"DFC00-1100","t":59.7,"i":231},{"s":"DFC00-1100","t":59.9,"i":233},{"s":"DFC00-1100","t":60.1,"i":231},{"s":"DFC00-1100","t":62.45,"i":231},{"s":"DFC00-1100","t":62.63,"i":251},{"s":"DFC00-1100","t":62.8,"i":240},{"s":"DFC00-1100","t":62.95,"i":231},{"s":"DFC00-1100","t":63.95,"i":231},{"s":"DFC00-1100","t":64.19,"i":250},{"s":"DFC00-1100","t":64.45,"i":232},{"s":"DFC00-1100","t":67.8,"i":231},{"s":"DFC00-1100","t":68.03,"i":234},{"s":"DFC00-1100","t":68.25,"i":231},{"s":"DFC00-1100","t":71.95,"i":231},{"s":"DFC00-1100","t":72.22,"i":238},{"s":"DFC00-1100","t":72.5,"i":231},{"s":"DFC00-1100","t":75.4,"i":230},{"s":"DFC00-1100","t":75.7,"i":235},{"s":"DFC00-1100","t":76.0,"i":230},{"s":"DFC00-1100","t":80,"i":230},

      {"s":"DFC00-1050","t":10,"i":131},{"s":"DFC00-1050","t":14.8,"i":130},{"s":"DFC00-1050","t":15.0,"i":133},{"s":"DFC00-1050","t":15.2,"i":130},{"s":"DFC00-1050","t":17.15,"i":130},{"s":"DFC00-1050","t":17.32,"i":134},{"s":"DFC00-1050","t":17.5,"i":130},{"s":"DFC00-1050","t":20.2,"i":130},{"s":"DFC00-1050","t":20.36,"i":149},{"s":"DFC00-1050","t":20.6,"i":132},{"s":"DFC00-1050","t":20.96,"i":143},{"s":"DFC00-1050","t":21.2,"i":131},{"s":"DFC00-1050","t":21.45,"i":134},{"s":"DFC00-1050","t":21.66,"i":170},{"s":"DFC00-1050","t":22.05,"i":134},{"s":"DFC00-1050","t":22.4,"i":131},{"s":"DFC00-1050","t":23.0,"i":131},{"s":"DFC00-1050","t":23.17,"i":140},{"s":"DFC00-1050","t":23.35,"i":131},{"s":"DFC00-1050","t":23.7,"i":131},{"s":"DFC00-1050","t":23.91,"i":139},{"s":"DFC00-1050","t":24.1,"i":130},{"s":"DFC00-1050","t":24.2,"i":130},{"s":"DFC00-1050","t":24.36,"i":164},{"s":"DFC00-1050","t":24.55,"i":130},{"s":"DFC00-1050","t":25.8,"i":130},{"s":"DFC00-1050","t":25.98,"i":136},{"s":"DFC00-1050","t":26.15,"i":131},{"s":"DFC00-1050","t":26.5,"i":130},{"s":"DFC00-1050","t":26.7,"i":167},{"s":"DFC00-1050","t":26.95,"i":130},{"s":"DFC00-1050","t":28.0,"i":130},{"s":"DFC00-1050","t":28.19,"i":138},{"s":"DFC00-1050","t":28.4,"i":130},{"s":"DFC00-1050","t":31.05,"i":130},{"s":"DFC00-1050","t":31.27,"i":143},{"s":"DFC00-1050","t":31.5,"i":132},{"s":"DFC00-1050","t":32.0,"i":137},{"s":"DFC00-1050","t":32.25,"i":130},{"s":"DFC00-1050","t":32.8,"i":130},{"s":"DFC00-1050","t":33.0,"i":133},{"s":"DFC00-1050","t":33.18,"i":131},{"s":"DFC00-1050","t":33.37,"i":224},{"s":"DFC00-1050","t":33.58,"i":130},{"s":"DFC00-1050","t":34.6,"i":130},{"s":"DFC00-1050","t":34.81,"i":138},{"s":"DFC00-1050","t":35.0,"i":131},{"s":"DFC00-1050","t":35.3,"i":135},{"s":"DFC00-1050","t":35.84,"i":198},{"s":"DFC00-1050","t":36.15,"i":130},{"s":"DFC00-1050","t":39.4,"i":130},{"s":"DFC00-1050","t":39.6,"i":133},{"s":"DFC00-1050","t":39.8,"i":130},{"s":"DFC00-1050","t":40.88,"i":130},{"s":"DFC00-1050","t":41.07,"i":149},{"s":"DFC00-1050","t":41.3,"i":130},{"s":"DFC00-1050","t":47.35,"i":130},{"s":"DFC00-1050","t":47.5,"i":133},{"s":"DFC00-1050","t":47.7,"i":130},{"s":"DFC00-1050","t":48.6,"i":130},{"s":"DFC00-1050","t":48.75,"i":133},{"s":"DFC00-1050","t":48.9,"i":130},{"s":"DFC00-1050","t":49.45,"i":130},{"s":"DFC00-1050","t":49.64,"i":159},{"s":"DFC00-1050","t":49.85,"i":138},{"s":"DFC00-1050","t":50.1,"i":135},{"s":"DFC00-1050","t":50.3,"i":130},{"s":"DFC00-1050","t":53.8,"i":130},{"s":"DFC00-1050","t":54.0,"i":134},{"s":"DFC00-1050","t":54.3,"i":163},{"s":"DFC00-1050","t":54.55,"i":130},{"s":"DFC00-1050","t":57.6,"i":130},{"s":"DFC00-1050","t":57.84,"i":136},{"s":"DFC00-1050","t":58.1,"i":130},{"s":"DFC00-1050","t":59.7,"i":130},{"s":"DFC00-1050","t":59.9,"i":134},{"s":"DFC00-1050","t":60.1,"i":130},{"s":"DFC00-1050","t":62.35,"i":130},{"s":"DFC00-1050","t":62.56,"i":151},{"s":"DFC00-1050","t":62.75,"i":140},{"s":"DFC00-1050","t":62.9,"i":130},{"s":"DFC00-1050","t":63.95,"i":130},{"s":"DFC00-1050","t":64.19,"i":148},{"s":"DFC00-1050","t":64.45,"i":130},{"s":"DFC00-1050","t":67.8,"i":130},{"s":"DFC00-1050","t":68.03,"i":133},{"s":"DFC00-1050","t":68.25,"i":130},{"s":"DFC00-1050","t":69.6,"i":130},{"s":"DFC00-1050","t":69.8,"i":132},{"s":"DFC00-1050","t":70.0,"i":130},{"s":"DFC00-1050","t":71.95,"i":130},{"s":"DFC00-1050","t":72.22,"i":136},{"s":"DFC00-1050","t":72.5,"i":130},{"s":"DFC00-1050","t":75.4,"i":129},{"s":"DFC00-1050","t":75.66,"i":134},{"s":"DFC00-1050","t":75.9,"i":129},{"s":"DFC00-1050","t":80,"i":129}
    ],
    "peaks": [
      {"t":12.30,"i":1030,"n":"13"},{"t":17.83,"i":1028,"n":"11"},{"t":23.89,"i":1020,"n":"13"},{"t":26.43,"i":1016,"n":"12"},{"t":28.05,"i":1035,"n":"11"},{"t":30.66,"i":1059,"n":"14"},{"t":34.20,"i":1040,"n":"11"},{"t":38.41,"i":1028,"n":"12"},{"t":45.45,"i":1047,"n":"14"},{"t":47.66,"i":1030,"n":"11"},{"t":51.03,"i":1019,"n":"11"},{"t":75.25,"i":1017,"n":"12"},
      {"t":20.61,"i":890,"n":"9"},{"t":26.53,"i":897,"n":"10"},{"t":28.57,"i":886,"n":"10"},{"t":34.68,"i":892,"n":"9"},{"t":37.75,"i":892,"n":"10"},{"t":40.74,"i":890,"n":"10"},{"t":44.34,"i":913,"n":"10"},{"t":48.01,"i":897,"n":"9"},{"t":53.24,"i":884,"n":"10"},{"t":61.06,"i":882,"n":"9"},
      {"t":14.39,"i":783,"n":"8"},{"t":22.16,"i":789,"n":"7"},{"t":28.33,"i":782,"n":"7"},{"t":38.32,"i":777,"n":"8"},{"t":43.65,"i":776,"n":"7"},{"t":46.85,"i":783,"n":"8"},{"t":49.97,"i":787,"n":"7"},{"t":51.77,"i":781,"n":"8"},{"t":55.47,"i":772,"n":"8"},{"t":61.34,"i":782,"n":"7"},
      {"t":16.15,"i":704,"n":"5"},{"t":19.57,"i":712,"n":"5"},{"t":28.0,"i":719,"n":"5"},{"t":29.96,"i":730,"n":"4"},{"t":30.82,"i":716,"n":"5"},{"t":31.54,"i":712,"n":"6"},{"t":34.69,"i":720,"n":"6"},{"t":40.66,"i":703,"n":"6"},{"t":45.17,"i":712,"n":"4"},{"t":48.36,"i":712,"n":"4"},{"t":50.62,"i":712,"n":"6"},{"t":55.33,"i":712,"n":"4"},{"t":59.92,"i":709,"n":"6"},{"t":61.74,"i":720,"n":"6"},
      {"t":16.42,"i":638,"n":"5"},{"t":19.84,"i":646,"n":"5"},{"t":28.28,"i":644,"n":"5"},{"t":29.51,"i":654,"n":"4"},{"t":31.05,"i":652,"n":"5"},{"t":31.95,"i":622,"n":"6"},{"t":35.10,"i":637,"n":"6"},{"t":40.61,"i":637,"n":"6"},{"t":45.68,"i":639,"n":"4"},{"t":48.82,"i":641,"n":"4"},{"t":55.80,"i":639,"n":"4"},{"t":60.35,"i":634,"n":"6"},{"t":62.57,"i":626,"n":"6"},
      {"t":12.43,"i":550,"n":"3"},{"t":15.74,"i":556,"n":"3"},{"t":20.24,"i":550,"n":"3"},{"t":23.01,"i":556,"n":"1"},{"t":27.22,"i":565,"n":"2"},{"t":30.15,"i":561,"n":"3"},{"t":32.06,"i":568,"n":"1"},{"t":33.23,"i":565,"n":"3"},{"t":36.33,"i":554,"n":"1"},{"t":46.96,"i":550,"n":"1"},{"t":50.45,"i":549,"n":"2"},{"t":53.24,"i":554,"n":"3"},{"t":59.82,"i":554,"n":"1"},{"t":62.43,"i":558,"n":"1"},
      {"t":12.59,"i":470,"n":"3"},{"t":15.67,"i":463,"n":"3"},{"t":19.84,"i":463,"n":"3"},{"t":23.17,"i":473,"n":"1"},{"t":26.93,"i":460,"n":"2"},{"t":28.28,"i":458,"n":"3"},{"t":31.88,"i":470,"n":"1"},{"t":32.96,"i":484,"n":"3"},{"t":36.22,"i":454,"n":"1"},{"t":47.89,"i":464,"n":"1"},{"t":50.34,"i":460,"n":"2"},{"t":52.01,"i":463,"n":"3"},{"t":60.01,"i":454,"n":"1"},{"t":62.71,"i":450,"n":"1"},
      {"t":11.69,"i":357,"n":"3"},{"t":16.46,"i":358,"n":"3"},{"t":20.20,"i":362,"n":"3"},{"t":23.84,"i":374,"n":"1"},{"t":26.77,"i":376,"n":"2"},{"t":29.06,"i":374,"n":"3"},{"t":32.85,"i":374,"n":"1"},{"t":34.65,"i":371,"n":"3"},{"t":37.64,"i":365,"n":"1"},{"t":47.50,"i":370,"n":"1"},{"t":49.83,"i":358,"n":"2"},{"t":52.71,"i":365,"n":"3"},{"t":60.46,"i":364,"n":"1"},{"t":61.93,"i":364,"n":"1"},
      {"t":19.27,"i":273,"n":"1"},{"t":25.04,"i":257,"n":"2"},{"t":27.22,"i":275,"n":"2"},{"t":32.40,"i":303,"n":"1"},{"t":34.87,"i":290,"n":"1"},{"t":40.16,"i":252,"n":"1"},{"t":46.80,"i":247,"n":"2"},{"t":48.82,"i":270,"n":"1"},{"t":53.32,"i":268,"n":"1"},{"t":61.74,"i":268,"n":"1"},{"t":65.03,"i":266,"n":"1"},
      {"t":19.45,"i":162,"n":"1"},{"t":25.04,"i":159,"n":"2"},{"t":27.33,"i":159,"n":"2"},{"t":32.73,"i":210,"n":"1"},{"t":35.21,"i":197,"n":"1"},{"t":40.26,"i":183,"n":"1"},{"t":46.85,"i":159,"n":"2"},{"t":48.82,"i":161,"n":"1"},{"t":53.55,"i":161,"n":"1"},{"t":62.10,"i":154,"n":"1"},{"t":64.82,"i":160,"n":"1"}
    ],
    "names": [
      {"t":78.63,"i":1016,"n":"FA"},
      {"t":79.15,"i":883,"n":"DFC100-1300"},
      {"t":79.15,"i":782,"n":"DFC75-1300"},
      {"t":79.15,"i":705,"n":"DFC50-1250"},
      {"t":79.15,"i":634,"n":"DFC50-1200"},
      {"t":79.15,"i":550,"n":"DFC25-1150"},
      {"t":79.15,"i":453,"n":"DFC25-1100"},
      {"t":79.15,"i":350,"n":"DFC25-1050"},
      {"t":79.15,"i":258,"n":"DFC00-1100"},
      {"t":79.15,"i":161,"n":"DFC00-1050"}
    ],
    "phases": [
      {"t":10.34,"i":100,"n":"1.Fe₂O₃"},
      {"t":15.59,"i":100,"n":"2.SiO₂"},
      {"t":20.92,"i":100,"n":"3.Ca₉Al(PO₄)₇"},
      {"t":31.43,"i":100,"n":"4.Ca₅(PO₄)₃Cl"},
      {"t":41.62,"i":100,"n":"5.Ca₉MgNa(PO₄)₇"},
      {"t":52.94,"i":100,"n":"6.Fe₂MgO₄"},
      {"t":60.53,"i":100,"n":"7.Ca₂Al(AlSiO₇)"},
      {"t":10.34,"i":54,"n":"8.Ca₅(PO₄)₃(OH)"},
      {"t":21.82,"i":54,"n":"9.Ca₃Fe₂(SiO₄)₃"},
      {"t":32.40,"i":54,"n":"10.Ca₅(PO₄)₃Cl"},
      {"t":42.52,"i":54,"n":"11.Ca(OH)₂"},
      {"t":50.52,"i":54,"n":"12.CaClOH"},
      {"t":58.07,"i":54,"n":"13.CaSO₄"},
      {"t":64.49,"i":54,"n":"14.NaCl"}
    ],
    "ticks": [
      {"t":20,"a":0,"b":13},{"t":30,"a":0,"b":13},{"t":40,"a":0,"b":13},
      {"t":50,"a":0,"b":13},{"t":60,"a":0,"b":13},{"t":70,"a":0,"b":13}
    ]
  },
  "layer": [
    {
      "data": {"name": "xrd"},
      "mark": {"type": "line", "strokeWidth": 7, "strokeJoin": "round", "interpolate": "monotone"},
      "encoding": {
        "x": {
          "field": "t", "type": "quantitative",
          "scale": {"domain": [10, 80], "nice": false},
          "axis": {
            "title": "2θ/(°)", "values": [10, 20, 30, 40, 50, 60, 70, 80],
            "ticks": false, "domain": false, "grid": false, "labelFlush": false,
            "labelFont": "Liberation Serif", "labelFontSize": 58, "labelColor": "black", "labelPadding": 10,
            "titleFont": "Liberation Serif", "titleFontSize": 58, "titleFontWeight": "normal",
            "titleColor": "black", "titlePadding": 16
          }
        },
        "y": {
          "field": "i", "type": "quantitative",
          "scale": {"domain": [0, 1088], "nice": false, "zero": false},
          "axis": {
            "title": "相对强度", "labels": false, "ticks": false, "domain": false, "grid": false,
            "titleFont": "Noto Sans CJK SC", "titleFontSize": 60, "titleFontWeight": "normal",
            "titleColor": "black", "titlePadding": 24
          }
        },
        "color": {
          "field": "s", "type": "nominal", "legend": null,
          "scale": {
            "domain": ["FA", "DFC100-1300", "DFC75-1300", "DFC50-1250", "DFC50-1200", "DFC25-1150", "DFC25-1100", "DFC25-1050", "DFC00-1100", "DFC00-1050"],
            "range": ["#6B4FA0", "#33295C", "#777735", "#F47B30", "#AE4FA6", "#6BC4C4", "#3A46A0", "#6ABF44", "#E8362D", "#111111"]
          }
        }
      }
    },
    {
      "data": {"name": "ticks"},
      "mark": {"type": "rule", "color": "black", "strokeWidth": 4},
      "encoding": {
        "x": {"field": "t", "type": "quantitative"},
        "y": {"field": "a", "type": "quantitative"},
        "y2": {"field": "b"}
      }
    },
    {
      "data": {"name": "peaks"},
      "mark": {"type": "text", "font": "Liberation Serif", "fontSize": 60, "align": "center", "baseline": "middle", "color": "black"},
      "encoding": {
        "x": {"field": "t", "type": "quantitative"},
        "y": {"field": "i", "type": "quantitative"},
        "text": {"field": "n"}
      }
    },
    {
      "data": {"name": "names"},
      "mark": {"type": "text", "font": "Liberation Serif", "fontSize": 60, "align": "right", "baseline": "middle", "color": "black"},
      "encoding": {
        "x": {"field": "t", "type": "quantitative"},
        "y": {"field": "i", "type": "quantitative"},
        "text": {"field": "n"}
      }
    },
    {
      "data": {"name": "phases"},
      "mark": {"type": "text", "font": "Liberation Serif", "fontSize": 50, "align": "left", "baseline": "middle", "color": "black"},
      "encoding": {
        "x": {"field": "t", "type": "quantitative"},
        "y": {"field": "i", "type": "quantitative"},
        "text": {"field": "n"}
      }
    }
  ]
}
